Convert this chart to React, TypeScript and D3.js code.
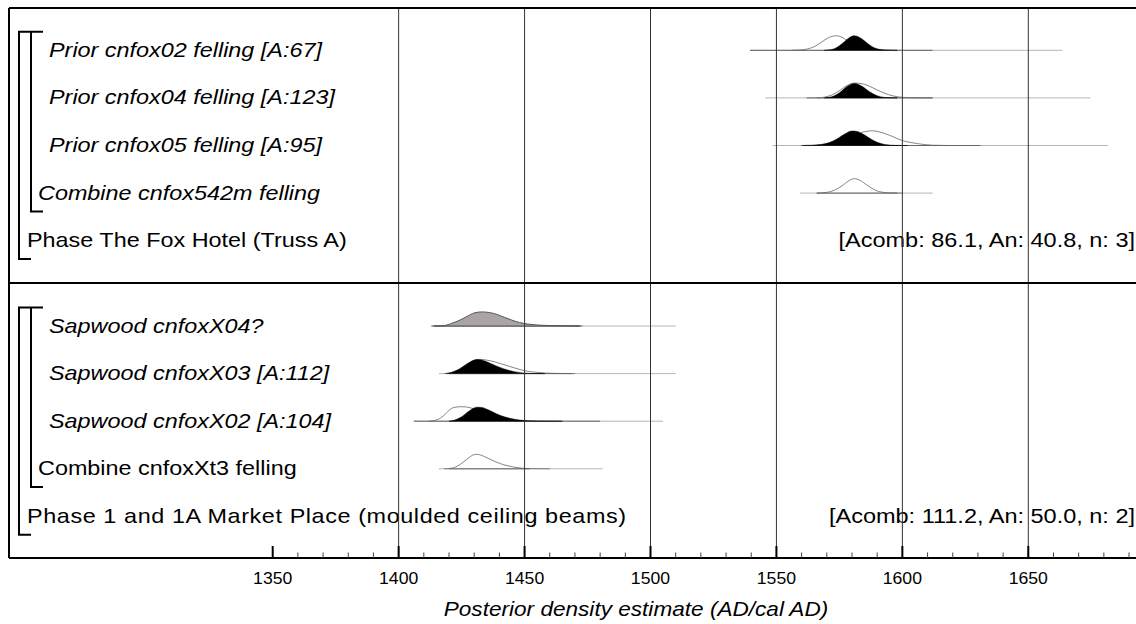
import React from "react";
import * as d3 from "d3";

// ---------- DATA ----------
const axisTicksMajor = [1350, 1400, 1450, 1500, 1550, 1600, 1650];
const gridYears = [1400, 1450, 1500, 1550, 1600, 1650];
const minorTickRange = [1350, 1690];

const topLabels = [
  "Prior cnfox02 felling [A:67]",
  "Prior cnfox04 felling [A:123]",
  "Prior cnfox05 felling [A:95]",
  "Combine cnfox542m felling",
  "Phase The Fox Hotel (Truss A)",
];
const bottomLabels = [
  "Sapwood cnfoxX04?",
  "Sapwood cnfoxX03 [A:112]",
  "Sapwood cnfoxX02 [A:104]",
  "Combine cnfoxXt3 felling",
  "Phase 1 and 1A Market Place (moulded ceiling beams)",
];
const topItalic = [true, true, true, true, false];
const bottomItalic = [true, true, true, false, false];
const labelIndent = [2, 2, 2, 1, 0];

const topPhaseStats = "[Acomb: 86.1, An: 40.8, n: 3]";
const bottomPhaseStats = "[Acomb: 111.2, An: 50.0, n: 2]";

// distributions: [year, relative density]
const fox02Prior: [number, number][] = [[1556,0],[1559,0.02],[1562,0.08],[1565,0.25],[1568,0.57],[1570,0.8],[1572,0.96],[1574,1.0],[1576,0.9],[1578,0.68],[1580,0.42],[1582,0.22],[1585,0.07],[1588,0.02],[1595,0]];
const fox02Post: [number, number][] = [[1569,0],[1572,0.06],[1574,0.2],[1576,0.45],[1578,0.75],[1580,0.97],[1581,1.0],[1582,0.97],[1584,0.78],[1586,0.5],[1588,0.25],[1590,0.1],[1593,0.02],[1598,0]];
const fox02Range = [1539.5, 1663.5];
const fox02PostRange = [1539.5, 1612];

const fox04Prior: [number, number][] = [[1566,0],[1569,0.05],[1572,0.2],[1575,0.5],[1578,0.85],[1581,1.02],[1584,0.98],[1587,0.8],[1590,0.55],[1593,0.32],[1596,0.15],[1600,0.04],[1605,0.01],[1612,0]];
const fox04Post: [number, number][] = [[1569,0],[1572,0.08],[1575,0.35],[1578,0.78],[1581,1.0],[1584,0.8],[1587,0.42],[1590,0.15],[1593,0.03],[1598,0]];
const fox04Range = [1545.5, 1674.6];
const fox04PostRange = [1562, 1612];

const fox05Prior: [number, number][] = [[1568,0],[1572,0.05],[1576,0.2],[1580,0.5],[1583,0.85],[1586,0.98],[1588,1.02],[1591,0.93],[1595,0.7],[1598,0.48],[1600,0.34],[1603,0.22],[1606,0.13],[1609,0.06],[1612,0.02],[1618,0]];
const fox05Post: [number, number][] = [[1560,0],[1564,0.02],[1568,0.08],[1571,0.2],[1574,0.45],[1577,0.78],[1580,1.0],[1582,0.97],[1584,0.82],[1587,0.5],[1590,0.22],[1593,0.07],[1597,0.01],[1602,0]];
const fox05Range = [1548.5, 1681.6];
const fox05PostRange = [1561, 1631];

const fox542mCombine: [number, number][] = [[1566,0],[1570,0.05],[1573,0.2],[1576,0.5],[1579,0.88],[1581,1.0],[1583,0.9],[1586,0.55],[1589,0.22],[1592,0.06],[1596,0.01],[1600,0]];
const fox542mRange = [1559.4, 1612];
const fox542mPostRange = [1566, 1598];

const x04Sapwood: [number, number][] = [[1414,0],[1418,0.03],[1421,0.18],[1424,0.38],[1427,0.65],[1430,0.9],[1433,0.97],[1436,0.93],[1439,0.8],[1442,0.6],[1445,0.4],[1448,0.24],[1451,0.14],[1455,0.07],[1460,0.03],[1466,0.01],[1472,0]];
const x04Range = [1413, 1510];
const x04PostRange = [1413, 1473];

const x03Prior: [number, number][] = [[1418,0],[1421,0.08],[1424,0.3],[1427,0.65],[1430,0.92],[1432,0.98],[1435,0.93],[1438,0.82],[1441,0.66],[1444,0.5],[1447,0.34],[1450,0.2],[1454,0.1],[1458,0.04],[1464,0.01],[1470,0]];
const x03Post: [number, number][] = [[1419,0],[1421,0.08],[1424,0.3],[1427,0.65],[1430,0.93],[1431,0.97],[1434,0.88],[1437,0.66],[1440,0.44],[1443,0.26],[1446,0.13],[1449,0.05],[1453,0.01],[1458,0]];
const x03Range = [1416, 1510];
const x03PostRange = [1420, 1468.7];

const x02Prior: [number, number][] = [[1412,0],[1415,0.08],[1418,0.4],[1420,0.75],[1422,0.95],[1425,1.0],[1428,0.95],[1431,0.75],[1434,0.5],[1437,0.3],[1440,0.15],[1444,0.05],[1450,0]];
const x02Post: [number, number][] = [[1420,0],[1422,0.06],[1425,0.3],[1428,0.7],[1431,0.97],[1433,0.95],[1436,0.75],[1439,0.5],[1442,0.3],[1445,0.17],[1448,0.08],[1452,0.03],[1458,0.01],[1465,0]];
const x02Range = [1406, 1505];
const x02PostRange = [1406, 1480];

const xt3Combine: [number, number][] = [[1418,0],[1421,0.04],[1424,0.25],[1427,0.65],[1430,0.98],[1431,1.0],[1434,0.85],[1437,0.6],[1440,0.38],[1443,0.22],[1446,0.11],[1449,0.04],[1453,0.01],[1460,0]];
const xt3Range = [1416, 1481];
const xt3PostRange = [1420, 1452];

// ---------- LAYOUT ----------
const W = 1136;
const H = 624;
const frameLeft = 9;
const frameTop = 8;
const sepY = 283;
const axisY = 558;
const rowStep = 47.6;
const topFirstRow = 50.3;
const bottomFirstRow = 326;

const x = d3.scaleLinear().domain([1350, 1650]).range([272.7, 1028.3]);
const hScale = d3.scaleLinear().domain([0, 1]).range([0, 14.5]);

type Row = {
  outline?: [number, number][];
  fill?: [number, number][];
  fillColor?: string;
  range: number[];
  postRange: number[];
};

const topRows: Row[] = [
  { outline: fox02Prior, fill: fox02Post, fillColor: "#000", range: fox02Range, postRange: fox02PostRange },
  { outline: fox04Prior, fill: fox04Post, fillColor: "#000", range: fox04Range, postRange: fox04PostRange },
  { outline: fox05Prior, fill: fox05Post, fillColor: "#000", range: fox05Range, postRange: fox05PostRange },
  { outline: fox542mCombine, range: fox542mRange, postRange: fox542mPostRange },
];
const bottomRows: Row[] = [
  { fill: x04Sapwood, fillColor: "#aaa4a4", range: x04Range, postRange: x04PostRange },
  { outline: x03Prior, fill: x03Post, fillColor: "#000", range: x03Range, postRange: x03PostRange },
  { outline: x02Prior, fill: x02Post, fillColor: "#000", range: x02Range, postRange: x02PostRange },
  { outline: xt3Combine, range: xt3Range, postRange: xt3PostRange },
];

function Dist({ row, y0 }: { row: Row; y0: number }) {
  const area = d3
    .area<[number, number]>()
    .x((d) => x(d[0]))
    .y0(y0)
    .y1((d) => y0 - hScale(d[1]))
    .curve(d3.curveMonotoneX);
  const line = d3
    .line<[number, number]>()
    .x((d) => x(d[0]))
    .y((d) => y0 - hScale(d[1]))
    .curve(d3.curveMonotoneX);
  return (
    <g>
      <line x1={x(row.range[0])} x2={x(row.range[1])} y1={y0} y2={y0} stroke="#b5b5b5" strokeWidth={1} />
      <line x1={x(row.postRange[0])} x2={x(row.postRange[1])} y1={y0} y2={y0} stroke="#666" strokeWidth={1} />
      {row.outline && <path d={line(row.outline) || ""} fill="none" stroke="#666" strokeWidth={0.8} />}
      {row.fill && (
        <path
          d={area(row.fill) || ""}
          fill={row.fillColor}
          stroke={row.fillColor === "#000" ? "#000" : "#555"}
          strokeWidth={row.fillColor === "#000" ? 0.5 : 1}
        />
      )}
    </g>
  );
}

const labelX = [27, 38, 49];
const font = "'Liberation Sans', Arial, Helvetica, sans-serif";

function Label({ text, xPos, y, italic, sx, anchor, len }: { text: string; xPos: number; y: number; italic: boolean; sx: number; anchor?: string; len?: number }) {
  return (
    <text
      transform={`translate(${xPos},${y}) scale(${sx},1)`}
      fontFamily={font}
      fontSize={20}
      fontStyle={italic ? "italic" : "normal"}
      textAnchor={anchor || "start"}
      fill="#000"
      {...(len ? { textLength: len, lengthAdjust: "spacing" } : {})}
    >
      {text}
    </text>
  );
}

function Brackets({ first }: { first: number }) {
  const top = first - 18.5;
  const innerBottom = first + 3 * rowStep + 18.3;
  const outerBottom = first + 4 * rowStep + 18.3;
  return (
    <g stroke="#000" strokeWidth={2} fill="none">
      <path d={`M43,${top} H19 V${outerBottom} H31`} />
      <path d={`M31,${top} V${innerBottom} H43`} />
    </g>
  );
}

export default function App() {
  const minorTicks = d3.range(minorTickRange[0], minorTickRange[1] + 1, 10);
  const tickLabelY = 584;
  return (
    <svg
      width={W}
      height={H}
      style={{ position: "absolute", left: 0, top: 0, background: "#fff" }}
      xmlns="http://www.w3.org/2000/svg"
    >
      <rect x={0} y={0} width={W} height={H} fill="#fff" />

      {/* distributions */}
      {topRows.map((r, i) => (
        <Dist key={"t" + i} row={r} y0={topFirstRow + i * rowStep} />
      ))}
      {bottomRows.map((r, i) => (
        <Dist key={"b" + i} row={r} y0={bottomFirstRow + i * rowStep} />
      ))}

      {/* labels */}
      {topLabels.map((t, i) => (
        <Label key={"tl" + i} text={t} xPos={labelX[labelIndent[i]]} y={topFirstRow + i * rowStep + 6.5} italic={topItalic[i]} sx={1.17} />
      ))}
      {bottomLabels.map((t, i) => (
        <Label
          key={"bl" + i}
          text={t}
          xPos={labelX[labelIndent[i]]}
          y={bottomFirstRow + i * rowStep + 6.5}
          italic={bottomItalic[i]}
          sx={1.17}
          len={i === 4 ? 512 : undefined}
        />
      ))}
      <Label text={topPhaseStats} xPos={1135} y={topFirstRow + 4 * rowStep + 6.5} italic={false} sx={1.175} anchor="end" />
      <Label text={bottomPhaseStats} xPos={1135} y={bottomFirstRow + 4 * rowStep + 6.5} italic={false} sx={1.175} anchor="end" />

      <Brackets first={topFirstRow} />
      <Brackets first={bottomFirstRow} />

      {/* grid lines */}
      {gridYears.map((g) => (
        <line key={"g" + g} x1={x(g)} x2={x(g)} y1={frameTop} y2={axisY} stroke="#333" strokeWidth={1} />
      ))}

      {/* frame */}
      <line x1={frameLeft} x2={W + 2} y1={frameTop} y2={frameTop} stroke="#000" strokeWidth={2} />
      <line x1={frameLeft} x2={frameLeft} y1={frameTop} y2={axisY} stroke="#000" strokeWidth={2} />
      <line x1={frameLeft} x2={W + 2} y1={sepY} y2={sepY} stroke="#000" strokeWidth={2} />
      <line x1={frameLeft} x2={W + 2} y1={axisY} y2={axisY} stroke="#000" strokeWidth={2} />

      {/* axis ticks */}
      {minorTicks.map((t) => {
        const major = t % 50 === 0;
        return (
          <line
            key={"mt" + t}
            x1={x(t)}
            x2={x(t)}
            y1={axisY - (major ? 12 : 5.5)}
            y2={axisY}
            stroke={major ? "#000" : "#444"}
            strokeWidth={major ? 2 : 1}
          />
        );
      })}
      {axisTicksMajor.map((t) => (
        <text
          key={"tl" + t}
          transform={`translate(${x(t)},${tickLabelY}) scale(1.07,1)`}
          fontFamily={font}
          fontSize={16.5}
          textAnchor="middle"
          fill="#000"
        >
          {t}
        </text>
      ))}
      <text
        transform={`translate(636,616) scale(1.13,1)`}
        fontFamily={font}
        fontSize={20}
        fontStyle="italic"
        textAnchor="middle"
        fill="#000"
      >
        Posterior density estimate (AD/cal AD)
      </text>
    </svg>
  );
}
